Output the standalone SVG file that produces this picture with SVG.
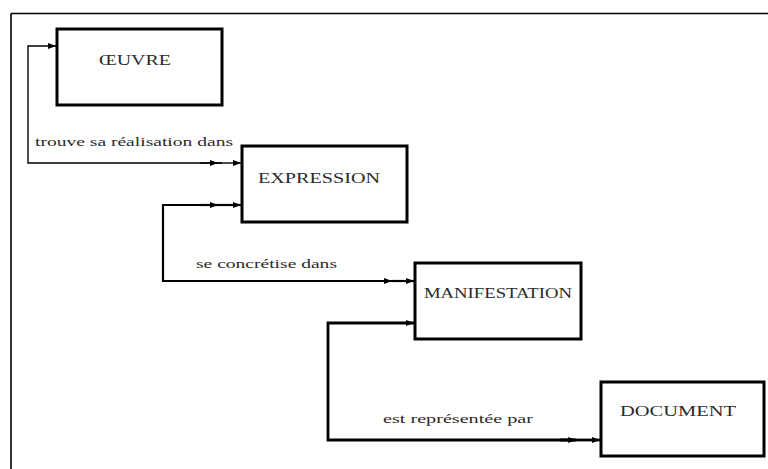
<svg xmlns="http://www.w3.org/2000/svg" width="768" height="469" viewBox="0 0 768 469">
  <style>
    .box { fill: #ffffff; stroke: #000000; stroke-width: 3; }
    .name { font-family: "Liberation Serif", "DejaVu Serif", serif; font-size: 14px; fill: #2a2a2a; }
    .label { font-family: "Liberation Serif", "DejaVu Serif", serif; font-size: 13px; fill: #2a2a2a; }
    .link { fill: none; stroke: #000000; stroke-linejoin: miter; }
    .thin { stroke-width: 1.4; }
    .thick { stroke-width: 2.2; }
    .heavy { stroke-width: 2.8; }
  </style>
  <defs>
    <marker id="tip" viewBox="0 0 8 6" refX="8" refY="3" markerWidth="8" markerHeight="6" markerUnits="userSpaceOnUse" orient="auto">
      <path d="M0,0 L8,3 L0,6 Z" fill="#000000"/>
    </marker>
  </defs>

  <rect width="768" height="469" fill="#ffffff"/>

  <!-- page frame -->
  <g id="frame" fill="none" stroke="#000000" stroke-width="1.6">
    <line x1="11" y1="13.5" x2="768" y2="13.5"/>
    <line x1="11" y1="13.5" x2="11" y2="469"/>
  </g>

  <!-- connectors -->
  <g id="connectors">
    <path class="link thin" d="M222,163 L28,163 L28,46 L56,46" marker-end="url(#tip)"/>
    <path class="link thin" d="M200,163 L218,163" marker-end="url(#tip)"/>
    <path class="link thin" d="M218,163 L241,163" marker-end="url(#tip)"/>

    <path class="link thick" d="M216,205 L163,205 L163,281 L392,281" marker-end="url(#tip)"/>
    <path class="link thick" d="M200,205 L218,205" marker-end="url(#tip)"/>
    <path class="link thick" d="M218,205 L241,205" marker-end="url(#tip)"/>
    <path class="link thick" d="M392,281 L414,281" marker-end="url(#tip)"/>

    <path class="link heavy" d="M576,440 L328,440 L328,323 L414,323" marker-end="url(#tip)"/>
    <path class="link heavy" d="M560,440 L576,440" marker-end="url(#tip)"/>
    <path class="link heavy" d="M576,440 L600,440" marker-end="url(#tip)"/>

    <text class="label" x="35" y="146" textLength="198" lengthAdjust="spacingAndGlyphs">trouve sa réalisation dans</text>
    <text class="label" x="196" y="268" textLength="141" lengthAdjust="spacingAndGlyphs">se concrétise dans</text>
    <text class="label" x="383" y="423" textLength="150" lengthAdjust="spacingAndGlyphs">est représentée par</text>
  </g>

  <g id="oeuvre">
    <rect class="box" x="57" y="29" width="165" height="76"/>
    <text class="name" x="99" y="65" textLength="72" lengthAdjust="spacingAndGlyphs">ŒUVRE</text>
  </g>

  <g id="expression">
    <rect class="box" x="242" y="146" width="165" height="76"/>
    <text class="name" x="258" y="183" textLength="122" lengthAdjust="spacingAndGlyphs">EXPRESSION</text>
  </g>

  <g id="manifestation">
    <rect class="box" x="415" y="263" width="166" height="76"/>
    <text class="name" x="424" y="298" textLength="148" lengthAdjust="spacingAndGlyphs">MANIFESTATION</text>
  </g>

  <g id="document">
    <rect class="box" x="601" y="382" width="163" height="74"/>
    <text class="name" x="620" y="416" textLength="116" lengthAdjust="spacingAndGlyphs">DOCUMENT</text>
  </g>
</svg>
